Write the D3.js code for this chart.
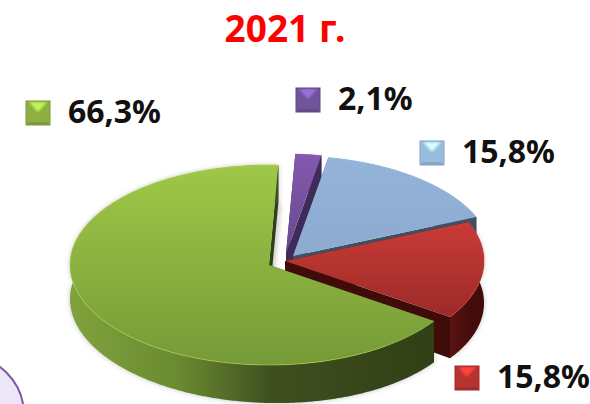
<!DOCTYPE html>
<html>
<head>
<meta charset="utf-8">
<script src="https://cdn.jsdelivr.net/npm/d3@7"></script>
<style>
  html, body { margin: 0; padding: 0; background: #fff; }
  svg { display: block; }
  text { font-family: "Noto Sans", Lato, sans-serif; font-weight: 700; }
</style>
</head>
<body>
<script>
'use strict';

const titleText = "2021 г.";
const labels = ["66,3%", "2,1%", "15,8%", "15,8%"];
const values = [66.3, 2.1, 15.8, 15.8];
const names = ["green", "purple", "blue", "red"];

// colours: top of slice, bottom of slice
const topColors = [["#9fc847", "#769a37"], ["#8458ae", "#664a8c"], ["#94b3d9", "#8dabd0"], ["#c93b37", "#9c2a27"]];
// wall gradient, left to right
const wallColors = [
  ["#80a23c", "#6a8a30", "#3f5020", "#303f15"],
  ["#4a3268", "#4a3268", "#3f2a5a", "#3f2a5a"],
  ["#465c70", "#465c70", "#3d5164", "#3d5164"],
  ["#5a1412", "#4f100e", "#450d0b", "#3f0c0a"]
];
const keyColors = ["#8db040", "#71539b", "#9abbe0", "#b8322f"];

// explode offset of each slice from the pie centre, px
const offsets = [[-16, 6], [1, -5], [8, -3], [0, 2]];
const legendPos = [[26, 101], [296, 88], [420, 141], [455, 366]];

const width = 590, height = 404;
const cx = 285, cy = 259, rx = 199, ry = 100;

const svg = d3.select("body").append("svg")
  .attr("width", width)
  .attr("height", height);

const defs = svg.append("defs");
const blur = defs.append("filter").attr("id", "soft")
  .attr("x", "-5%").attr("y", "-5%").attr("width", "110%").attr("height", "110%");
blur.append("feGaussianBlur").attr("stdDeviation", 2.5);
const keyBlur = defs.append("filter").attr("id", "keysoft");
keyBlur.append("feGaussianBlur").attr("stdDeviation", 1);

// bubble in the corner, only the edge of it is on the slide
svg.append("circle")
  .attr("cx", -36).attr("cy", 415).attr("r", 60)
  .attr("fill", "#ece6f7")
  .attr("stroke", "#7a5ca6")
  .attr("stroke-width", 2);

svg.append("text")
  .attr("x", 285).attr("y", 42)
  .attr("text-anchor", "middle")
  .attr("fill", "#ff0000")
  .style("font-size", "37px")
  .text(titleText);

const pieGen = d3.pie().sort(null)
  .startAngle(124 * Math.PI / 180)
  .endAngle((124 + 360) * Math.PI / 180);
const slices = pieGen(values);

const line = d3.line();

// wall is a bit shorter on the left, the slide has some perspective
function wallDepth(a) {
  return 38 + 4 * Math.sin(a);
}

// flat pie: angle goes clockwise from 12 o'clock
function rim(a, o, low) {
  return [
    cx + o[0] + rx * Math.sin(a),
    cy + o[1] - ry * Math.cos(a) + (low ? wallDepth(a) : 0)
  ];
}

function arcPoints(s, o, low) {
  const n = Math.ceil((s.endAngle - s.startAngle) / 0.01);
  return d3.range(n + 1).map(i => rim(s.startAngle + (s.endAngle - s.startAngle) * i / n, o, low));
}

names.forEach((name, i) => {
  const g = defs.append("linearGradient").attr("id", "top-" + name)
    .attr("x1", 0).attr("y1", 0).attr("x2", 0).attr("y2", 1);
  g.append("stop").attr("offset", 0).attr("stop-color", topColors[i][0]);
  g.append("stop").attr("offset", 1).attr("stop-color", topColors[i][1]);
  const w = defs.append("linearGradient").attr("id", "wall-" + name)
    .attr("x1", 0).attr("y1", 0).attr("x2", 1).attr("y2", 0);
  [0, 0.3, 0.55, 1].forEach((off, k) => {
    w.append("stop").attr("offset", off).attr("stop-color", wallColors[i][k]);
  });
});

// soft shadow under the walls
const shadow = svg.append("g").attr("filter", "url(#soft)").attr("opacity", 0.45);
[0, 3].forEach(i => {
  const s = slices[i], o = offsets[i];
  const pts = arcPoints(s, o, false).concat(arcPoints(s, o, true).reverse());
  shadow.append("path").attr("d", line(pts) + "Z").attr("fill", "#777");
});
// grey strip next to the cut edge of the big slice
shadow.append("path")
  .attr("d", line([
    rim(slices[0].endAngle, offsets[0], true),
    [cx + offsets[0][0], cy + offsets[0][1] + wallDepth(Math.PI)]
  ]))
  .attr("fill", "none")
  .attr("stroke", "#666")
  .attr("stroke-width", 4);

// back to front
const drawOrder = [1, 2, 3, 0];

drawOrder.forEach(i => {
  const s = slices[i], o = offsets[i], name = names[i];
  const g = svg.append("g").attr("class", "slice-" + name);
  const apex = [cx + o[0], cy + o[1]];
  const apexLow = [apex[0], apex[1] + wallDepth(Math.PI)];

  // cut faces
  [s.startAngle, s.endAngle].forEach(a => {
    g.append("path")
      .attr("d", line([apex, rim(a, o, false), rim(a, o, true), apexLow]) + "Z")
      .attr("fill", wallColors[i][3]);
  });

  // outer wall
  const top = arcPoints(s, o, false);
  const low = arcPoints(s, o, true);
  g.append("path")
    .attr("d", line(top.concat(low.reverse())) + "Z")
    .attr("fill", "url(#wall-" + name + ")");

  // top face
  g.append("path")
    .attr("d", line([apex].concat(top)) + "Z")
    .attr("fill", "url(#top-" + name + ")");

  // thin light edge
  g.append("path")
    .attr("d", line(top))
    .attr("fill", "none")
    .attr("stroke", d3.color(topColors[i][0]).brighter(0.3))
    .attr("stroke-width", 1)
    .attr("opacity", 0.6);
});

// legend keys with bevel
const keySize = 24, bevel = 3;
names.forEach((name, i) => {
  const x = legendPos[i][0], y = legendPos[i][1];
  const base = d3.color(keyColors[i]);
  const g = svg.append("g").attr("transform", `translate(${x},${y})`);
  const k = keySize, b = bevel;
  g.append("rect").attr("width", k).attr("height", k).attr("fill", base);
  g.append("path")
    .attr("d", line([[b, 1], [k - b, 1], [k / 2, k / 2 - 1]]) + "Z")
    .attr("fill", base.brighter(0.9))
    .attr("filter", "url(#keysoft)");
  g.append("path")
    .attr("d", line([[0, k], [k, k], [k - b, k - b], [b, k - b]]) + "Z")
    .attr("fill", base.darker(0.35));
  g.append("rect").attr("width", k).attr("height", k).attr("fill", "none")
    .attr("stroke", base.darker(0.4)).attr("stroke-width", 1);
  svg.append("text")
    .attr("x", x + 42).attr("y", y + 22)
    .attr("fill", "#111")
    .style("font-size", "32px")
    .text(labels[i]);
});
</script>
</body>
</html>
